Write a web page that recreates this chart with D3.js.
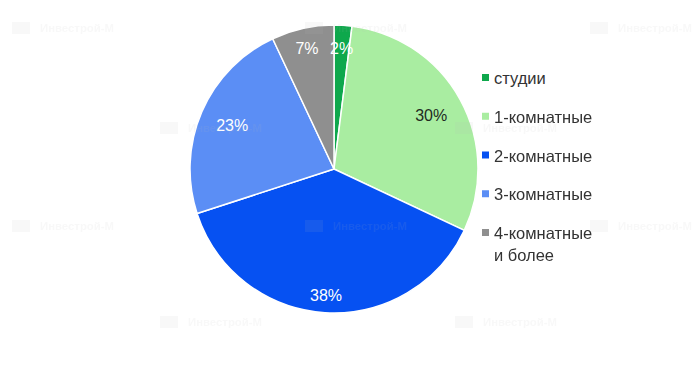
<!DOCTYPE html>
<html>
<head>
<meta charset="utf-8">
<script src="https://cdn.jsdelivr.net/npm/d3@7"></script>
<style>
  body { margin: 0; background: #fff; }
  svg { display: block; font-family: Arial, "Liberation Sans", sans-serif; }
</style>
</head>
<body>
<div id="chart"></div>
<script>
// data
const categories = ["студии", "1-комнатные", "2-комнатные", "3-комнатные", "4-комнатные и более"];
const shares = [2, 30, 38, 23, 7];
const colors = ["#0ea84c", "#a9eda1", "#0651f2", "#5b8ef5", "#8f8f8f"];
const legendLines = [["студии"], ["1-комнатные"], ["2-комнатные"], ["3-комнатные"], ["4-комнатные", "и более"]];

const width = 700, height = 382;
const cx = 334, cy = 169, radius = 144;

const svg = d3.select("#chart").append("svg")
  .attr("width", width)
  .attr("height", height);

const data = categories.map((c, i) => ({ name: c, value: shares[i], color: colors[i] }));

const pie = d3.pie().value(d => d.value).sort(null);
const arc = d3.arc().innerRadius(0).outerRadius(radius);
const arcs = pie(data);

const g = svg.append("g").attr("transform", `translate(${cx},${cy})`);

g.selectAll("path")
  .data(arcs)
  .enter()
  .append("path")
  .attr("d", arc)
  .attr("fill", d => d.data.color)
  .attr("stroke", "#fff")
  .attr("stroke-width", 1.5);

// watermark (very faint, sits over the pie like in the original)
const marks = [[12, 28], [305, 28], [590, 28], [160, 128], [455, 128], [12, 226], [305, 226], [590, 226], [160, 322], [455, 322]];
const wm = svg.append("g").style("pointer-events", "none").attr("opacity", 0.1);
marks.forEach(([x, y]) => {
  const m = wm.append("g").attr("transform", `translate(${x},${y})`);
  m.append("rect").attr("x", 0).attr("y", -6).attr("width", 18).attr("height", 12).attr("fill", "#bbb");
  m.append("text")
    .attr("x", 28)
    .attr("dy", "0.35em")
    .attr("fill", "#bbb")
    .attr("textLength", 74)
    .attr("lengthAdjust", "spacingAndGlyphs")
    .style("font-size", "11px")
    .style("font-weight", "bold")
    .text("Инвестрой-М");
});

// labels - narrow slices get pushed out a bit
const labelK = { "студии": 0.84, "4-комнатные и более": 0.86, "2-комнатные": 0.88 };
g.selectAll("text.pct")
  .data(arcs)
  .enter()
  .append("text")
  .attr("class", "pct")
  .attr("transform", d => {
    const k = labelK[d.data.name] || 0.77;
    const a = (d.startAngle + d.endAngle) / 2;
    return `translate(${Math.sin(a) * radius * k},${-Math.cos(a) * radius * k})`;
  })
  .attr("text-anchor", "middle")
  .attr("dy", "0.36em")
  .style("font-size", "16px")
  .attr("fill", d => d.data.name === "1-комнатные" ? "#1f2a1f" : "#fff")
  .text(d => d.data.value + "%");

// legend
const legend = svg.append("g").attr("transform", "translate(482,0)");
const rowY = d3.scaleLinear().domain([0, 4]).range([84, 239]);
const item = legend.selectAll("g.item")
  .data(data)
  .enter()
  .append("g")
  .attr("class", "item")
  .attr("transform", (d, i) => `translate(0,${rowY(i)})`);

item.append("rect")
  .attr("x", 0)
  .attr("y", -10)
  .attr("width", 7)
  .attr("height", 7)
  .attr("fill", d => d.color);

item.append("text")
  .attr("x", 12)
  .attr("fill", "#333")
  .style("font-size", "16.5px")
  .selectAll("tspan")
  .data((d, i) => legendLines[i])
  .enter()
  .append("tspan")
  .attr("x", 12)
  .attr("dy", (d, j) => j === 0 ? 0 : 22)
  .text(d => d);
</script>
</body>
</html>
